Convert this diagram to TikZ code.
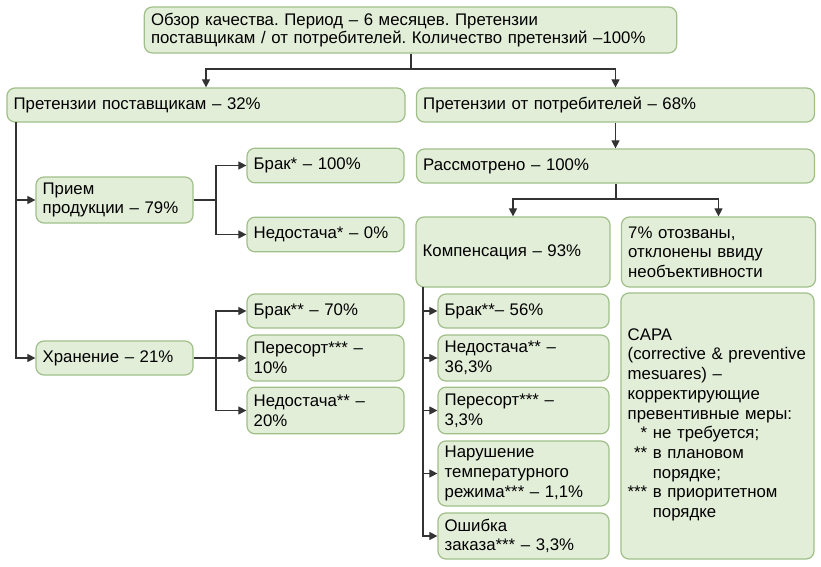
\documentclass[tikz,border=0pt]{standalone}
\usepackage{fontspec}
\setmainfont{Liberation Sans}
\usetikzlibrary{arrows.meta}

\definecolor{boxfill}{HTML}{E3EED9}
\definecolor{boxline}{HTML}{9FBF88}
\definecolor{wire}{HTML}{333333}

\tikzstyle{claim} = [draw=boxline, fill=boxfill, line width=0.9pt, rectangle,
  rounded corners=6pt, inner xsep=5pt, inner ysep=0pt, align=left,
  font=\fontsize{12.6}{14.8}\selectfont\frenchspacing]
\tikzstyle{wide} = [claim, text width=288.5pt, minimum height=25.5pt]
\tikzstyle{half} = [claim, text width=135.5pt]
\tikzstyle{small} = [claim, text width=107.75pt]
\tikzstyle{leaf} = [claim, text width=118.25pt]
\tikzstyle{link} = [draw=wire, line width=0.8pt]

\begin{document}
\begin{tikzpicture}[x=0.75pt, y=-0.75pt, >={Triangle[length=6pt,width=6pt]}]
        \useasboundingbox (0,0) rectangle (821,567);

        \node [claim, text width=389.25pt, minimum height=34.5pt,
          font=\fontsize{12.6}{13.9}\selectfont\frenchspacing] (review) at (410.5,30)
          {Обзор качества. Период – 6 месяцев. Претензии\\
           поставщикам / от потребителей. Количество претензий –100\%};

        \node [wide]  (suppliers) at (206,105)   {Претензии поставщикам – 32\%};
        \node [wide]  (consumers) at (615.5,105) {Претензии от потребителей – 68\%};
        \node [wide]  (checked)   at (615.5,166) {Рассмотрено – 100\%};
        \node [half, minimum height=52.5pt] (compens)  at (513,252)
          {Компенсация – 93\%};
        \node [half, minimum height=52.5pt] (rejected) at (718.5,252)
          {7\% отозваны,\\ отклонены ввиду\\ необъективности};

        \node [small, minimum height=34.5pt] (intake)  at (114.5,200) {Прием\\ продукции – 79\%};
        \node [small, minimum height=26pt]   (defectA) at (325.5,165.5) {Брак* – 100\%};
        \node [small, minimum height=26pt]   (lackA)   at (325.5,234.5) {Недостача* – 0\%};

        \node [small, minimum height=25.5pt] (storage) at (114.5,358) {Хранение – 21\%};
        \node [small, minimum height=25.5pt] (defectB) at (325.5,311) {Брак** – 70\%};
        \node [small, minimum height=34.5pt] (mixB)    at (325.5,358) {Пересорт*** –\\ 10\%};
        \node [small, minimum height=35pt]   (lackB)   at (325.5,410.5) {Недостача** –\\ 20\%};

        \node [leaf, minimum height=25.5pt] (defectC) at (523.5,311) {Брак**– 56\%};
        \node [leaf, minimum height=34.5pt] (lackC)   at (523.5,358) {Недостача** –\\ 36,3\%};
        \node [leaf, minimum height=35pt]   (mixC)    at (523.5,410.5) {Пересорт*** –\\ 3,3\%};
        \node [leaf, minimum height=48.75pt] (tempC)  at (523.5,473.5)
          {Нарушение\\ температурного\\ режима*** – 1,1\%};
        \node [leaf, minimum height=34.5pt] (orderC)  at (523.5,536) {Ошибка\\ заказа*** – 3,3\%};

        \node [claim, text width=134.75pt, minimum height=199.5pt] (capa) at (717.5,426)
          {CAPA\\ (corrective \& preventive\\ mesuares) –\\ корректирующие\\
           превентивные меры:\\
           \begin{tabular}[t]{@{}r@{\ }l@{}}
             {*} & не требуется;\\
             {**} & в плановом\\
                & порядке;\\
             {***} & в приоритетном\\
                 & порядке
           \end{tabular}};

        \coordinate (topsplit)  at (411,69);
        \coordinate (revsplit)  at (616,199);
        \coordinate (supleg)    at (16,122);
        \coordinate (intakefork) at (216,200);
        \coordinate (storefork) at (216,358);
        \coordinate (compleg)   at (423,287);

        \draw[link] (review.south -| topsplit) -- (topsplit);
        \draw[link,->] (topsplit) -| (suppliers.north);
        \draw[link,->] (topsplit) -| (consumers.north);
        \draw[link,->] (consumers.south) -- (checked.north);
        \draw[link] (checked.south -| revsplit) -- (revsplit);
        \draw[link,->] (revsplit) -| (compens.north);
        \draw[link,->] (revsplit) -| (rejected.north);

        \draw[link,->] (supleg) |- (storage.west);
        \draw[link,->] (supleg |- intake.west) -- (intake.west);
        \draw[link] (intake.east) -- (intakefork);
        \draw[link,->] (intakefork) |- (defectA.west);
        \draw[link,->] (intakefork) |- (lackA.west);
        \draw[link,->] (storage.east) -- (mixB.west);
        \draw[link,->] (storefork) |- (defectB.west);
        \draw[link,->] (storefork) |- (lackB.west);

        \draw[link,->] (compleg) |- (orderC.west);
        \draw[link,->] (compleg |- defectC.west) -- (defectC.west);
        \draw[link,->] (compleg |- lackC.west) -- (lackC.west);
        \draw[link,->] (compleg |- mixC.west) -- (mixC.west);
        \draw[link,->] (compleg |- tempC.west) -- (tempC.west);
      \end{tikzpicture}
\end{document}
